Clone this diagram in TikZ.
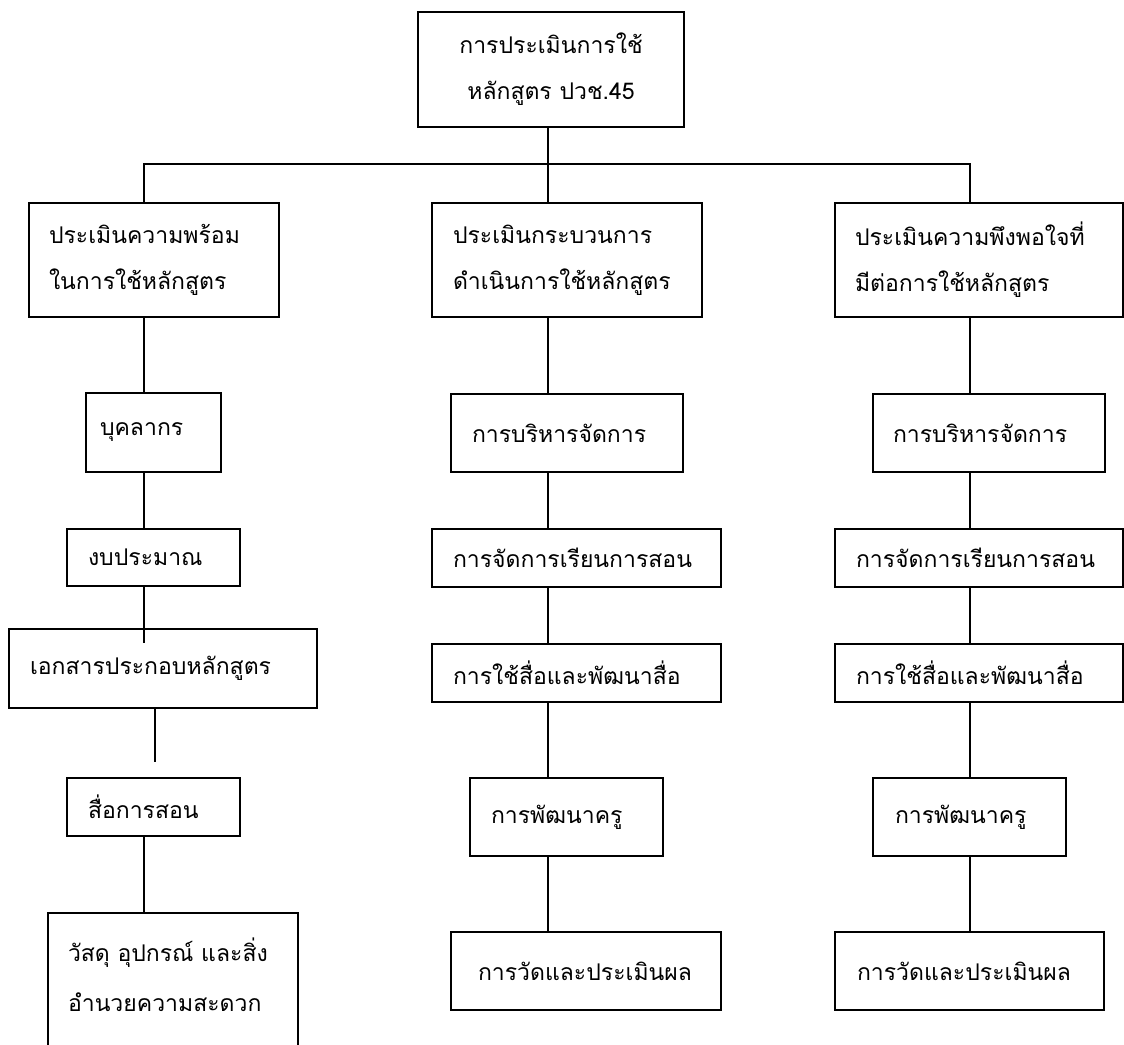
\documentclass[tikz,border=0pt]{standalone}
\usepackage{fontspec}
\newfontfamily\thai[Script=Thai]{Loma}
\tikzset{
  bx/.style={draw, line width=1.3pt, inner ysep=0pt, outer sep=0pt, align=left,
    font=\thai\fontsize{23}{46}\selectfont},
  ln/.style={line width=1.3pt},
}
\begin{document}
\begin{tikzpicture}[x=1pt,y=-1pt]
\useasboundingbox (0,0) rectangle (1124,1044);
\fill[white] (0,0) rectangle (1124,1044);
% guide columns
\coordinate (xl) at (144,0);
\coordinate (xm) at (548,0);
\coordinate (xr) at (970,0);
\coordinate (xe) at (155,0);
\coordinate (hb) at (548,164);
% top
\node[bx, align=center, minimum width=266pt, minimum height=115pt, text width=246pt, inner xsep=10pt] (top) at (551,69.5) {การประเมินการใช้\\หลักสูตร ปวช.45};
% level 1
\node[bx, minimum height=114pt, text width=210pt, inner xsep=20pt] (A0) at (154,260) {ประเมินความพร้อม\\ในการใช้หลักสูตร};
\node[bx, minimum height=114pt, text width=228pt, inner xsep=21pt] (B0) at (567,260) {ประเมินกระบวนการ\\ดำเนินการใช้หลักสูตร};
\node[bx, minimum height=114pt, text width=248pt, inner xsep=20pt] (C0) at (979,260) {ประเมินความพึงพอใจที่\\มีต่อการใช้หลักสูตร};
% left column
\node[bx, minimum height=79pt, text width=107pt, inner xsep=14pt] (A1) at (153.5,432.5) {บุคลากร};
\node[bx, minimum height=57pt, text width=131pt, inner xsep=21pt] (A2) at (153.5,557.5) {งบประมาณ};
\node[bx, minimum height=79pt, text width=266pt, inner xsep=21pt] (A3) at (163,668.5) {เอกสารประกอบหลักสูตร};
\node[bx, minimum height=58pt, text width=131pt, inner xsep=21pt] (A4) at (153.5,807) {สื่อการสอน};
\node[bx, minimum height=174pt, text width=210pt, inner xsep=20pt, font=\thai\fontsize{23}{50}\selectfont] (A5) at (173,1000) {วัสดุ~อุปกรณ์~และสิ่ง\\อำนวยความสะดวก\\\mbox{}};
% middle column
\node[bx, minimum height=78pt, text width=190pt, inner xsep=21pt] (B1) at (567,433) {การบริหารจัดการ};
\node[bx, minimum height=58pt, text width=247pt, inner xsep=21pt] (B2) at (576.5,558) {การจัดการเรียนการสอน};
\node[bx, minimum height=58pt, text width=247pt, inner xsep=21pt] (B3) at (576.5,673) {การใช้สื่อและพัฒนาสื่อ};
\node[bx, minimum height=78pt, text width=151pt, inner xsep=21pt] (B4) at (566.5,817) {การพัฒนาครู};
\node[bx, minimum height=78pt, text width=216pt, inner xsep=27pt] (B5) at (586,971) {การวัดและประเมินผล};
% right column
\node[bx, minimum height=78pt, text width=192pt, inner xsep=20pt] (C1) at (989,433) {การบริหารจัดการ};
\node[bx, minimum height=58pt, text width=246pt, inner xsep=21pt] (C2) at (979,558) {การจัดการเรียนการสอน};
\node[bx, minimum height=58pt, text width=246pt, inner xsep=21pt] (C3) at (979,673) {การใช้สื่อและพัฒนาสื่อ};
\node[bx, minimum height=78pt, text width=149pt, inner xsep=22pt] (C4) at (969.5,817) {การพัฒนาครู};
\node[bx, minimum height=78pt, text width=225pt, inner xsep=22pt] (C5) at (969.5,971) {การวัดและประเมินผล};
% connectors
\draw[ln] (top.south -| xm) -- (B0.north -| xm);
\draw[ln] (A0.north -| xl) -- (xl |- hb) -- (xr |- hb) -- (C0.north -| xr);
\draw[ln] (A0.south -| xl) -- (A1.north -| xl);
\draw[ln] (A1.south -| xl) -- (A2.north -| xl);
\draw[ln] (A2.south -| xl) -- ([yshift=-14pt]A3.north -| xl);
\draw[ln] (A3.south -| xe) -- ([yshift=16pt]A4.north -| xe);
\draw[ln] (A4.south -| xl) -- (A5.north -| xl);
\draw[ln] (B0.south -| xm) -- (B1.north -| xm);
\draw[ln] (B1.south -| xm) -- (B2.north -| xm);
\draw[ln] (B2.south -| xm) -- (B3.north -| xm);
\draw[ln] (B3.south -| xm) -- (B4.north -| xm);
\draw[ln] (B4.south -| xm) -- (B5.north -| xm);
\draw[ln] (C0.south -| xr) -- (C1.north -| xr);
\draw[ln] (C1.south -| xr) -- (C2.north -| xr);
\draw[ln] (C2.south -| xr) -- (C3.north -| xr);
\draw[ln] (C3.south -| xr) -- (C4.north -| xr);
\draw[ln] (C4.south -| xr) -- (C5.north -| xr);
\end{tikzpicture}
\end{document}
